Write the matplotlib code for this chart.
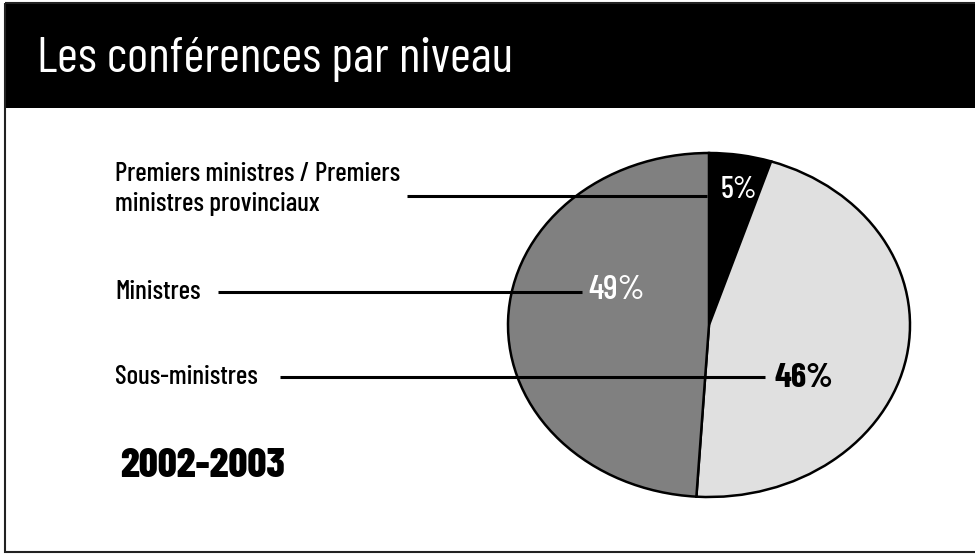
import matplotlib.pyplot as plt
from matplotlib.patches import Rectangle

# data, in drawing order (clockwise from 12 o'clock)
categories = ["Premiers ministres / Premiers\nministres provinciaux", "Sous-ministres", "Ministres"]
shares = [5, 46, 49]
colors = ["#000000", "#e0e0e0", "#808080"]

title = "Les conférences par niveau"
period = "2002-2003"

W, H = 975, 554
NARROW = ["Barlow Condensed", "DejaVu Sans"]

fig = plt.figure(figsize=(W / 100, H / 100), dpi=100)

# background: frame and black header band (pixel coordinates)
bg = fig.add_axes([0, 0, 1, 1])
bg.set_xlim(0, W)
bg.set_ylim(H, 0)
bg.axis("off")
bg.add_patch(Rectangle((5, 3), W, 105, facecolor="black", edgecolor="none"))
bg.add_patch(Rectangle((5, 3), W, 549, fill=False, edgecolor="#222222", linewidth=1.5))
bg.text(37, 72, title, color="white", fontsize=36.5, family=NARROW, va="baseline", ha="left")

# the pie, squeezed into an ellipse
ax = fig.add_axes([508 / W, 57 / H, 402 / W, 344 / H])
ax.pie(shares, colors=colors, startangle=90, counterclock=False,
       wedgeprops=dict(edgecolor="black", linewidth=1.8, clip_on=False))
ax.set_aspect("auto")
ax.set_xlim(-1, 1)
ax.set_ylim(-1, 1)

# percent labels: (x, y, color, weight, size) in pie coordinates
pct_style = [(0.15, 0.785, "white", 500, 22),
             (0.47, -0.31, "black", "bold", 25),
             (-0.46, 0.2, "white", 500, 25)]
for v, (x, y, c, w, s) in zip(shares, pct_style):
    ax.text(x, y, f"{v}%", color=c, fontweight=w, fontsize=s, family=NARROW,
            ha="center", va="center")

# category labels with leader lines, drawn over everything
top = fig.add_axes([0, 0, 1, 1])
top.patch.set_alpha(0)
top.set_xlim(0, W)
top.set_ylim(H, 0)
top.axis("off")
label_style = [(189, 407, 707), (377, 280, 765), (292, 218, 582)]  # (y, line start, line end)
for cat, (y, x0, x1) in zip(categories, label_style):
    top.text(115, y, cat, fontsize=19.5, fontweight=500, family=NARROW,
             ha="left", va="center", linespacing=1.3)
    ly = y + 7 if "\n" in cat else y
    top.plot([x0, x1], [ly, ly], color="black", linewidth=2.2, solid_capstyle="butt")

top.text(120, 466, period, fontsize=30, fontweight=800, family=NARROW, ha="left", va="center")

fig.savefig("out.png", dpi=100)
